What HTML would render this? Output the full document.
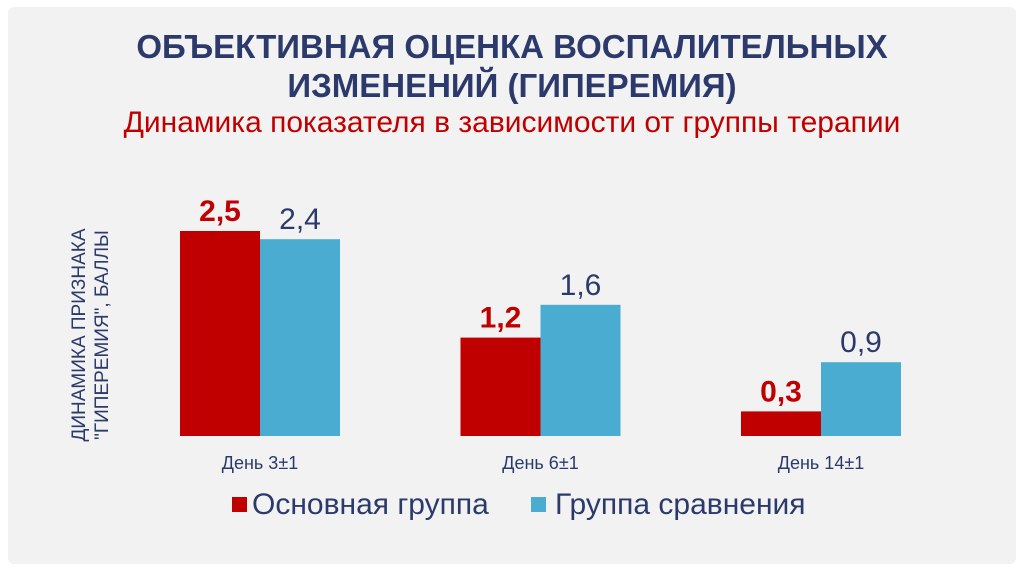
<!DOCTYPE html>
<html><head><meta charset="utf-8"><style>
body{margin:0;width:1024px;height:574px;background:#fff;overflow:hidden;font-family:"Liberation Sans",sans-serif}
#panel{position:absolute;left:8px;top:7px;width:1008px;height:557px;background:#f2f2f2;border-radius:6px}
.t{position:absolute;left:0;width:1024px;text-align:center;color:#2b3a6b;font-weight:bold;font-size:33px;line-height:38px}
</style></head><body>
<div id="panel"></div>
<div class="t" style="top:28px">ОБЪЕКТИВНАЯ ОЦЕНКА ВОСПАЛИТЕЛЬНЫХ</div>
<div class="t" style="top:67px">ИЗМЕНЕНИЙ (ГИПЕРЕМИЯ)</div>
<div class="t" style="top:106px;color:#c00000;font-weight:normal;font-size:30px;line-height:34px">Динамика показателя в зависимости от группы терапии</div>
<svg id="chart" width="1024" height="574" style="position:absolute;left:0;top:0">
<text transform="translate(85,335) rotate(-90)" text-anchor="middle" font-size="19" fill="#2b3a6b" font-family="Liberation Sans"><tspan x="0" dy="0">ДИНАМИКА ПРИЗНАКА</tspan><tspan x="0" dy="23">"ГИПЕРЕМИЯ", БАЛЛЫ</tspan></text>
</svg>
<div style="position:absolute;left:232px;top:497px;width:15px;height:15px;background:#c00000"></div>
<div style="position:absolute;left:252px;top:488px;font-size:30px;color:#2b3a6b">Основная группа</div>
<div style="position:absolute;left:531px;top:497px;width:15px;height:15px;background:#4bacd1"></div>
<div style="position:absolute;left:555px;top:488px;font-size:30px;color:#2b3a6b">Группа сравнения</div>
<script>
const categories=["День 3±1","День 6±1","День 14±1"];
const mainValues=[2.5,1.2,0.3];
const compValues=[2.4,1.6,0.9];
const mainLabels=["2,5","1,2","0,3"];
const compLabels=["2,4","1,6","0,9"];
const svg=document.getElementById('chart');
const NS='http://www.w3.org/2000/svg';
const base=436,unit=82,barW=80;
const x=i=>260+i*280.5;
const y=v=>base-v*unit;
function mk(t,a){const e=document.createElementNS(NS,t);for(const k in a)e.setAttribute(k,a[k]);svg.appendChild(e);return e;}
categories.forEach((c,i)=>{
 const r=mk('rect',{x:x(i)-barW,y:y(mainValues[i]),width:barW,height:base-y(mainValues[i]),fill:'#c00000'});
 
 
 const b=mk('rect',{x:x(i),y:y(compValues[i]),width:barW,height:base-y(compValues[i]),fill:'#4bacd1'});
 
 
 const t1=mk('text',{x:x(i)-barW/2,y:y(mainValues[i])-10,'text-anchor':'middle','font-size':30,'font-weight':'bold',fill:'#c00000','font-family':'Liberation Sans'});
 t1.textContent=mainLabels[i];
 
 
 const t2=mk('text',{x:x(i)+barW/2,y:y(compValues[i])-10,'text-anchor':'middle','font-size':30,fill:'#2b3a6b','font-family':'Liberation Sans'});
 t2.textContent=compLabels[i];
 
 
 const t3=mk('text',{x:x(i),y:469,'text-anchor':'middle','font-size':18,fill:'#2b3a6b','font-family':'Liberation Sans'});
 t3.textContent=c;
 
 
});
</script>
</body></html>
